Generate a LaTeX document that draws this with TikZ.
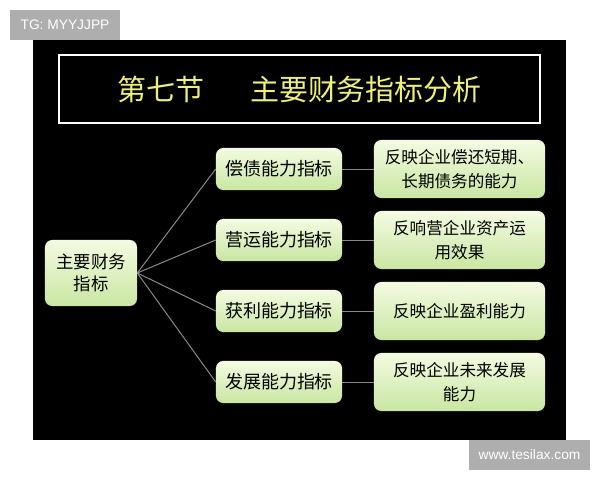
\documentclass[tikz,border=0pt]{standalone}
\usepackage{fontspec}
\setmainfont{Liberation Sans}
\newfontfamily\cjk{Noto Sans CJK SC}
\usepackage{xcolor}
\usepackage{tikz}
\usetikzlibrary{positioning,calc}
\definecolor{titleyellow}{HTML}{EEF07A}
\definecolor{boxtop}{HTML}{F4FBE2}
\definecolor{boxbottom}{HTML}{C9E6A2}
\definecolor{linkgray}{HTML}{8A8A8A}
\definecolor{markgray}{HTML}{AEAEAE}

\begin{document}
\begin{tikzpicture}[x=0.025cm, y=-0.025cm,
    box/.style={rectangle, rounded corners=0.18cm, top color=boxtop, bottom color=boxbottom, text=black, inner sep=1pt, align=center},
    rootbox/.style={box, minimum width=2.3cm, minimum height=1.65cm, font=\cjk\fontsize{12.4}{15.6}\selectfont},
    kindbox/.style={box, minimum width=3.15cm, minimum height=1.05cm, font=\cjk\fontsize{12.8}{16}\selectfont},
    notebox/.style={box, minimum width=4.275cm, minimum height=1.45cm, font=\cjk\fontsize{11.8}{17}\selectfont},
    link/.style={draw=linkgray, line width=0.7pt},
    wmark/.style={rectangle, fill=markgray, text=white, inner sep=0pt, font=\fontsize{9.8}{11}\selectfont}
]
    \useasboundingbox (0,0) rectangle (600,480);
    \fill[white] (0,0) rectangle (600,480);

    % slide background
    \fill[black] (33,40) rectangle (566,440);

    % title
    \node[draw=white, line width=1pt, minimum width=12.025cm, minimum height=1.7cm, inner sep=0pt,
          text=titleyellow, font=\cjk\fontsize{20.6}{24}\selectfont] (title) at (299.5,89)
          {第七节\hspace{1.59em}主要财务指标分析};

    % root
    \node[rootbox] (root) at (91,273) {主要财务\\指标};

    % kinds of indicators
    \node[kindbox] (debt) at (279,169) {偿债能力指标};
    \node[kindbox] (oper) at (279,240) {营运能力指标};
    \node[kindbox] (prof) at (279,311) {获利能力指标};
    \node[kindbox] (grow) at (279,382) {发展能力指标};

    % explanations
    \node[notebox] (debtn) at (459.5,169) {反映企业偿还短期、\\长期债务的能力};
    \node[notebox] (opern) at (459.5,240) {反响营企业资产运\\用效果};
    \node[notebox] (profn) at (459.5,311) {反映企业盈利能力};
    \node[notebox] (grown) at (459.5,382) {反映企业未来发展\\能力};

    % links
    \foreach \k in {debt,oper,prof,grow} {
        \draw[link] (root.east) -- (\k.west);
        \draw[link] (\k.east) -- (\k n.west);
    }

    % watermarks
    \node[wmark, minimum width=2.75cm, minimum height=0.75cm] (tg) at (65,25) {TG: MYYJJPP};
    \node[wmark, minimum width=3.025cm, minimum height=0.75cm] (site) at (529.5,455) {www.tesilax.com};
\end{tikzpicture}
\end{document}
